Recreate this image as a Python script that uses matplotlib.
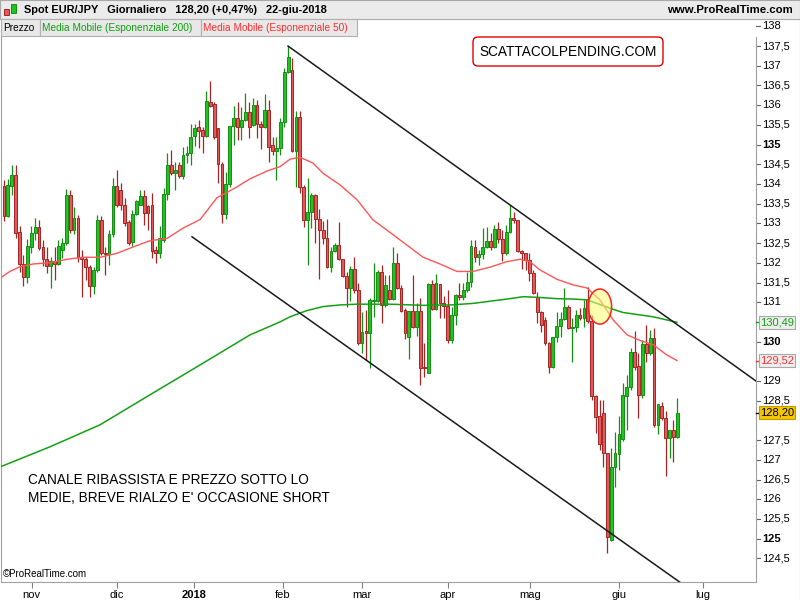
import matplotlib
matplotlib.use("Agg")
import matplotlib.pyplot as plt
import matplotlib.transforms as mtransforms
from matplotlib.patches import Rectangle, FancyBboxPatch, Ellipse

plt.rcParams['font.family'] = ['Liberation Sans', 'DejaVu Sans']

# daily candles EUR/JPY, index 0 = 20-ott-2017 ... 173 = 22-giu-2018
opens = [133.95, 133.19, 133.95, 134.23, 132.78, 131.97, 131.64, 132.40, 132.76, 132.91,
         132.40, 132.10, 131.92, 132.05, 131.97, 132.33, 132.50, 133.72, 132.84, 133.14,
         132.15, 132.10, 131.90, 131.41, 131.82, 133.09, 132.25, 132.22, 132.73, 133.95,
         133.85, 133.47, 133.04, 132.53, 133.24, 133.47, 133.70, 133.44, 133.47, 132.33,
         132.25, 132.58, 133.75, 134.48, 134.28, 134.48, 134.20, 134.74, 134.79, 135.22,
         135.45, 135.38, 135.22, 136.08, 136.03, 135.42, 134.51, 133.24, 134.00, 135.47,
         135.68, 135.45, 135.63, 135.83, 135.50, 136.00, 135.52, 135.45, 135.88, 134.99,
         134.84, 134.92, 135.58, 136.85, 136.90, 134.84, 135.70, 133.93, 133.08, 133.29,
         133.72, 133.11, 132.84, 132.62, 131.90, 132.30, 132.45, 132.09, 131.67, 131.36,
         131.84, 131.31, 129.96, 130.27, 130.22, 131.03, 131.03, 131.76, 130.93, 131.31,
         131.08, 131.99, 131.36, 130.80, 130.12, 130.78, 130.37, 130.78, 129.35, 129.21,
         131.46, 130.82, 131.46, 130.97, 130.90, 130.04, 130.67, 131.18, 131.13, 131.31,
         131.51, 132.40, 132.15, 132.22, 132.40, 132.55, 132.40, 132.86, 132.60, 132.25,
         132.78, 133.14, 133.09, 132.30, 132.25, 132.07, 131.74, 131.13, 130.75, 130.55,
         129.96, 129.35, 130.12, 130.40, 130.57, 130.88, 130.34, 130.37, 130.67, 130.60,
         131.08, 130.52, 128.62, 128.10, 128.18, 127.17, 124.97, 126.82, 127.15, 127.52,
         128.62, 128.85, 129.74, 129.38, 128.64, 129.94, 129.71, 130.09, 127.88, 128.37,
         128.06, 127.55, 127.76, 127.58]
highs = [134.10, 134.12, 134.48, 134.48, 132.93, 132.20, 132.60, 132.93, 133.13, 133.08,
         132.58, 132.40, 132.15, 132.40, 132.58, 132.63, 133.88, 133.85, 133.42, 133.22,
         132.33, 132.15, 131.95, 131.90, 133.22, 133.19, 132.40, 132.83, 134.15, 134.36,
         134.02, 133.64, 133.09, 133.34, 133.60, 133.85, 133.85, 133.47, 133.77, 132.43,
         132.94, 133.90, 134.79, 134.87, 134.56, 134.56, 134.94, 134.97, 135.52, 135.52,
         135.63, 135.45, 136.36, 136.61, 136.08, 135.42, 134.56, 134.30, 135.48, 135.98,
         136.08, 135.96, 136.31, 136.08, 136.18, 136.13, 135.60, 136.28, 136.13, 135.20,
         135.20, 135.68, 136.95, 137.50, 137.20, 135.86, 135.86, 133.97, 134.15, 133.77,
         133.75, 133.37, 133.06, 133.11, 132.40, 132.50, 133.03, 132.10, 131.77, 131.92,
         132.15, 131.49, 130.75, 130.80, 131.11, 131.99, 131.82, 131.95, 131.69, 131.69,
         132.40, 132.25, 131.44, 130.85, 130.78, 131.69, 130.98, 131.11, 129.96, 131.49,
         131.57, 131.72, 131.47, 131.16, 131.31, 130.88, 131.21, 131.49, 131.49, 131.77,
         132.58, 132.58, 132.33, 132.88, 132.91, 132.75, 132.96, 133.04, 132.84, 132.96,
         133.47, 133.29, 133.09, 132.33, 132.25, 132.25, 131.82, 131.26, 130.78, 130.63,
         129.99, 130.12, 130.75, 130.75, 131.36, 130.93, 130.60, 130.80, 130.85, 131.06,
         131.39, 130.68, 128.65, 128.52, 128.52, 127.17, 127.30, 127.71, 128.11, 128.95,
         129.15, 129.84, 130.26, 129.71, 130.04, 130.42, 130.30, 130.35, 128.42, 128.47,
         128.24, 127.76, 128.01, 128.57]
lows = [133.06, 133.16, 133.72, 132.63, 131.77, 131.41, 131.48, 132.25, 132.58, 132.33,
        131.92, 131.74, 131.36, 131.56, 131.95, 132.12, 132.45, 132.76, 132.73, 132.02,
        131.13, 131.56, 131.13, 131.20, 131.77, 132.20, 131.69, 131.95, 132.65, 133.42,
        133.34, 132.93, 132.45, 132.43, 133.22, 133.47, 132.96, 132.84, 132.12, 132.00,
        132.12, 132.53, 133.60, 134.23, 133.85, 134.15, 134.12, 134.53, 134.48, 134.97,
        134.92, 134.79, 135.19, 135.96, 135.14, 134.02, 133.01, 133.11, 133.92, 134.99,
        135.12, 135.12, 135.61, 135.17, 135.48, 135.17, 134.89, 135.43, 134.56, 134.74,
        134.10, 134.74, 135.45, 136.82, 134.82, 133.92, 133.77, 132.91, 131.95, 132.88,
        132.50, 131.59, 132.48, 131.87, 131.77, 132.28, 132.07, 131.64, 130.88, 131.03,
        131.23, 129.92, 129.70, 129.53, 129.33, 130.63, 131.01, 130.47, 130.88, 131.06,
        131.06, 131.33, 130.75, 130.07, 129.56, 130.35, 130.15, 128.90, 129.10, 129.20,
        130.80, 130.80, 130.60, 130.60, 129.96, 129.96, 130.42, 131.06, 131.06, 131.26,
        131.39, 132.02, 131.95, 132.10, 132.38, 132.33, 132.38, 132.50, 132.05, 132.20,
        132.76, 133.01, 132.28, 131.85, 131.82, 131.54, 131.21, 130.47, 130.25, 129.92,
        129.20, 129.33, 129.99, 130.12, 130.55, 130.32, 129.48, 130.25, 130.55, 130.37,
        130.47, 128.52, 127.67, 127.25, 126.82, 124.64, 124.95, 126.30, 126.75, 127.48,
        127.76, 128.77, 129.28, 128.06, 128.57, 129.48, 129.66, 127.83, 127.66, 128.01,
        126.60, 127.05, 126.95, 127.55]
closes = [133.19, 133.97, 134.23, 132.76, 131.97, 131.64, 132.43, 132.76, 132.91, 132.37,
          132.10, 131.92, 132.05, 131.97, 132.43, 132.50, 133.72, 132.84, 133.14, 132.15,
          132.10, 131.90, 131.41, 131.82, 133.09, 132.25, 132.22, 132.73, 133.95, 133.47,
          133.47, 133.00, 132.50, 133.24, 133.57, 133.70, 133.27, 133.27, 132.30, 132.25,
          132.63, 133.75, 134.48, 134.28, 134.36, 134.20, 134.74, 134.79, 135.19, 135.42,
          135.35, 135.22, 136.11, 135.99, 135.19, 134.51, 133.24, 134.00, 135.47, 135.68,
          135.45, 135.63, 135.83, 135.45, 136.00, 135.52, 135.45, 135.88, 134.94, 134.84,
          134.92, 135.58, 136.85, 137.23, 134.84, 135.70, 133.93, 133.08, 133.29, 133.72,
          133.11, 132.84, 132.62, 131.90, 132.30, 132.45, 132.09, 131.67, 131.36, 131.84,
          131.31, 129.96, 130.25, 130.22, 131.06, 131.06, 131.76, 130.93, 131.44, 131.08,
          131.99, 131.36, 130.78, 130.21, 130.78, 130.37, 130.78, 129.33, 129.32, 131.46,
          130.82, 131.49, 130.97, 130.90, 130.04, 130.67, 131.18, 131.13, 131.31, 131.51,
          132.43, 132.15, 132.22, 132.40, 132.55, 132.40, 132.86, 132.60, 132.25, 132.78,
          133.14, 133.09, 132.30, 132.25, 132.07, 131.74, 131.23, 130.75, 130.42, 129.96,
          129.35, 130.12, 130.40, 130.57, 130.88, 130.34, 130.37, 130.67, 130.60, 130.86,
          130.52, 128.62, 128.08, 127.40, 127.17, 125.05, 126.82, 127.17, 127.66, 128.64,
          128.85, 129.74, 129.36, 128.64, 129.94, 129.71, 130.09, 127.88, 128.42, 128.06,
          127.55, 127.76, 127.58, 128.20]

# moving averages (bar index, value)
ema50_x = [-1.0, 1.5, 4.1, 7.5, 11.8, 16.2, 20.3, 24.7, 29.0, 33.1, 37.5, 41.9, 46.0, 50.4,
           54.7, 59.4, 63.2, 67.6, 70.9, 73.5, 76.0, 79.4, 82.0, 84.5, 86.3, 90.7, 94.8,
           99.2, 103.5, 107.7, 112.0, 116.4, 120.5, 124.9, 129.2, 132.6, 135.1, 137.7,
           142.1, 146.2, 149.8, 153.1, 156.5, 160.1, 163.4, 166.8, 170.3, 172.9]
ema50_y = [131.61, 131.78, 131.90, 131.97, 132.00, 132.09, 132.14, 132.14, 132.24, 132.40,
           132.56, 132.62, 132.88, 133.10, 133.65, 133.90, 134.13, 134.33, 134.44, 134.63,
           134.68, 134.53, 134.27, 134.10, 133.98, 133.60, 133.09, 132.77, 132.45, 132.14,
           131.97, 131.78, 131.78, 131.89, 132.03, 132.09, 132.03, 131.82, 131.58, 131.44,
           131.36, 131.06, 130.55, 130.17, 130.03, 129.92, 129.66, 129.52]
ema200_x = [-1.0, 11.8, 24.7, 37.5, 50.4, 63.2, 70.9, 73.5, 77.9, 82.0, 86.3, 90.7, 99.2,
            107.7, 114.6, 120.5, 129.2, 133.4, 137.7, 142.1, 146.2, 149.8, 156.5, 159.0,
            166.8, 172.9]
ema200_y = [126.82, 127.33, 127.89, 128.65, 129.41, 130.17, 130.50, 130.63, 130.79, 130.89,
            130.93, 130.95, 130.95, 130.92, 130.93, 130.97, 131.08, 131.14, 131.12, 131.09,
            131.08, 131.06, 130.82, 130.74, 130.63, 130.49]

# trend channel
upper_x = [72.97, 193.2]
upper_y = [137.50, 129.00]
lower_x = [48.3, 174.0]
lower_y = [132.66, 123.87]

month_pos = [7.1, 29.0, 48.8, 71.7, 92.0, 114.1, 135.1, 158.0, 179.6]
month_labels = ['nov', 'dic', '2018', 'feb', 'mar', 'apr', 'mag', 'giu', 'lug']
price_levels = [124.5, 125, 125.5, 126, 126.5, 127, 127.5, 128.5, 129, 130, 131,
                131.5, 132, 132.5, 133, 133.5, 134, 134.5, 135, 135.5, 136, 136.5, 137,
                137.5, 138]

last_price = 128.20
last_ema200 = 130.49
last_ema50 = 129.52

fig = plt.figure(figsize=(8, 6), dpi=100)
ax = fig.add_axes([1/800, 18/600, 755/800, 545/600])
ax.set_xlim(-0.77, 193.2)
ax.set_ylim(123.90, 137.73)

red_edge, red_fill = '#a82424', '#e05a5a'
green_edge, green_fill = '#138f13', '#22c222'
for i in range(len(closes)):
    o, h, l, c = opens[i], highs[i], lows[i], closes[i]
    up = c >= o
    ec = green_edge if up else red_edge
    fc = green_fill if up else red_fill
    ax.vlines(i, l, h, color=ec, lw=0.9, zorder=2)
    ax.bar(i, max(abs(c - o), 0.02), bottom=min(o, c), width=0.72,
           color=fc, edgecolor=ec, linewidth=0.7, zorder=3)

ax.plot(ema200_x, ema200_y, color='#14a014', lw=1.1, zorder=4)
ax.plot(ema50_x, ema50_y, color='#ff5555', lw=1.0, zorder=4)
ax.plot(upper_x, upper_y, color='#1a1a1a', lw=1.1, zorder=5)
ax.plot(lower_x, lower_y, color='#1a1a1a', lw=1.1, zorder=5)

ax.add_patch(Ellipse((153.1, 130.89), 6.0, 0.89, facecolor=(1, 1, 0.45, 0.55),
                     edgecolor='#ff2020', lw=1.1, zorder=6))

for s in ['left', 'right', 'bottom']:
    ax.spines[s].set_color('#a0a0a0')
ax.spines['top'].set_visible(False)
ax.set_yticks([])
ax.set_xticks(month_pos)
ax.set_xticklabels(month_labels, fontsize=8)
ax.tick_params(axis='x', direction='out', length=4, color='#808080', pad=1.5)
for t in ax.get_xticklabels():
    if t.get_text() == '2018':
        t.set_fontweight('bold')

# right price scale
bt = mtransforms.blended_transform_factory(ax.transAxes, ax.transData)
tick_w = 4 / 755
for lev in price_levels:
    ax.plot([1.0, 1.0 + tick_w], [lev, lev], color='#606060', lw=0.8,
            transform=bt, clip_on=False)
    lab = ('%g' % lev).replace('.', ',')
    ax.text(1.0 + 6 / 755, lev, lab, transform=bt, va='center', ha='left',
            fontsize=8, fontweight='bold' if lev % 5 == 0 else 'normal',
            clip_on=False)

for val, col, bg, ec in [(last_ema200, '#10a010', '#eeeeee', '#a8a8a8'),
                         (last_ema50, '#ff3030', '#eeeeee', '#a8a8a8'),
                         (last_price, 'black', '#f7c600', '#c09a00')]:
    ax.plot([1.0, 1.0 + tick_w], [val, val], color=col, lw=1.0,
            transform=bt, clip_on=False, zorder=9)
    ax.text(1.0 + 4 / 755, val, ('%.2f' % val).replace('.', ','), transform=bt,
            va='center', ha='left', fontsize=8, color=col, clip_on=False, zorder=10,
            bbox=dict(boxstyle='square,pad=0.12', facecolor=bg, edgecolor=ec, lw=0.8))

px = fig.dpi_scale_trans  # inches, 1 in = 100 px

def box(x0, y0, x1, y1, fc, ec):
    fig.patches.append(Rectangle((x0 / 100, (600 - y1) / 100), (x1 - x0) / 100,
                                 (y1 - y0) / 100, transform=px, facecolor=fc,
                                 edgecolor=ec, lw=0.8))

# header bar
box(0, 0, 800, 18.5, '#ebebeb', '#a8a8a8')
fig.patches.append(Rectangle((0.04, (600 - 15) / 100), 0.05, 0.06, transform=px,
                             facecolor=red_fill, edgecolor=red_edge, lw=0.7))
fig.patches.append(Rectangle((0.11, (600 - 13) / 100), 0.05, 0.09, transform=px,
                             facecolor=green_fill, edgecolor=green_edge, lw=0.7))
fig.text(24 / 800, 1 - 10 / 600,
         'Spot EUR/JPY   Giornaliero   128,20 (+0,47%)   22-giu-2018',
         fontsize=7.9, fontweight='bold', va='center', ha='left')
fig.text(793 / 800, 1 - 10 / 600, 'www.ProRealTime.com', fontsize=8.2,
         fontweight='bold', va='center', ha='right')

# legend row
legend_items = [('Prezzo', 'black', 1, 40),
                ('Media Mobile (Esponenziale 200)', '#10a010', 40, 201),
                ('Media Mobile (Esponenziale 50)', '#ff3030', 201, 357)]
for txt, col, x0, x1 in legend_items:
    box(x0, 19.5, x1, 35.5, '#e8e8e8', '#b0b0b0')
    fig.text((x0 + 2) / 800, 1 - 28 / 600, txt, color=col, fontsize=7.3,
             va='center', ha='left')

# outer right border
fig.add_artist(plt.Line2D([799.5 / 800, 799.5 / 800], [0, 1 - 19 / 600],
                          color='#a0a0a0', lw=0.8))

fig.text(3 / 800, 1 - 574 / 600, '\u00a9ProRealTime.com', fontsize=7, va='center')

fig.patches.append(FancyBboxPatch((4.73, (600 - 66) / 100), 1.90, 0.29,
                                  boxstyle='round,pad=0,rounding_size=0.05',
                                  transform=px, facecolor='white',
                                  edgecolor='#e00000', lw=1.0, zorder=20))
fig.text(568 / 800, 1 - 51.5 / 600, 'SCATTACOLPENDING.COM', fontsize=9.8,
         va='center', ha='center', zorder=21)

fig.text(28 / 800, 1 - 480 / 600, 'CANALE RIBASSISTA E PREZZO SOTTO LO',
         fontsize=9.8, va='center', ha='left')
fig.text(28 / 800, 1 - 498 / 600, "MEDIE, BREVE RIALZO E' OCCASIONE SHORT",
         fontsize=9.8, va='center', ha='left')

fig.savefig('out.png', dpi=100)
